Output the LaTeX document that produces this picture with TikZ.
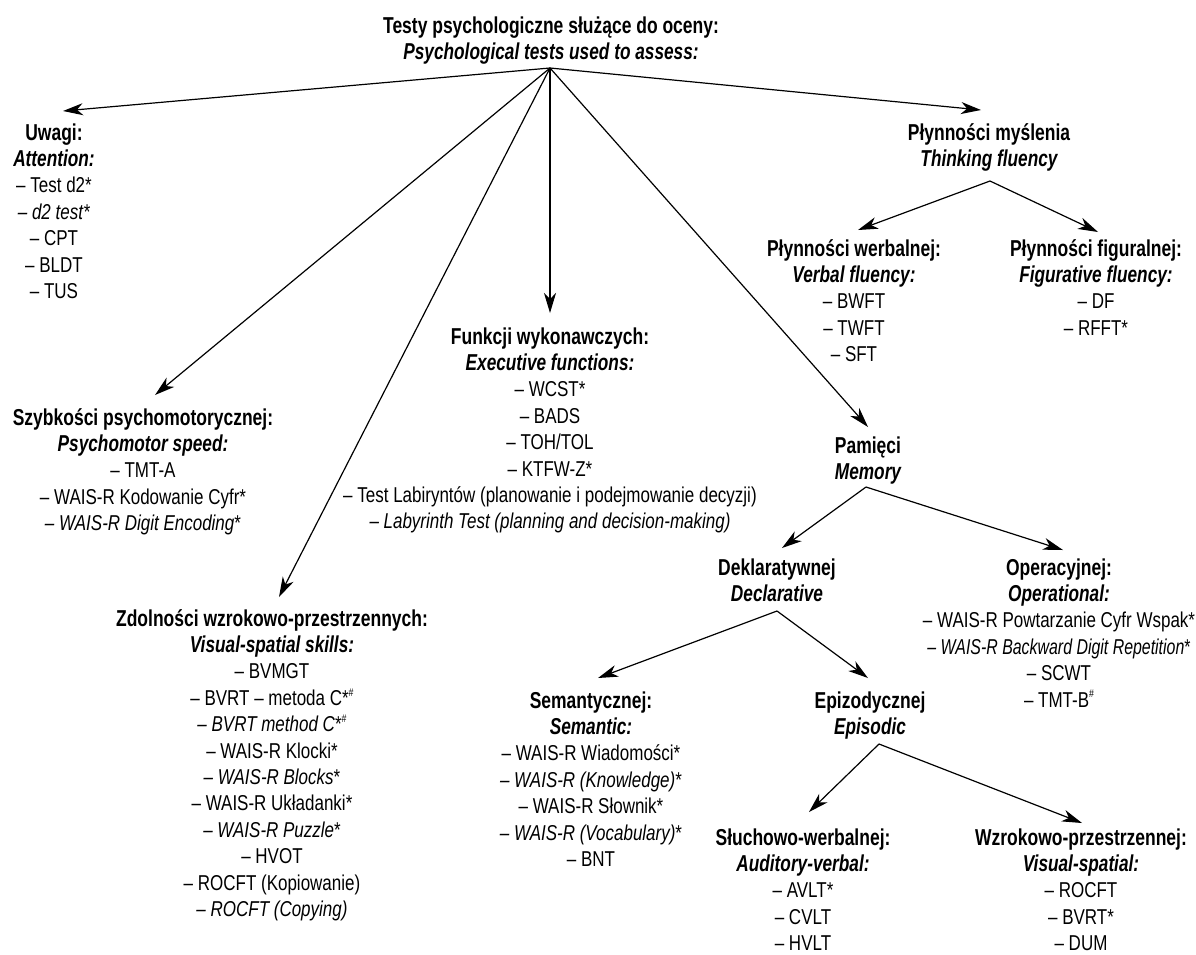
\documentclass[tikz,border=0pt]{standalone}
\usepackage{fontspec}
\setmainfont{Liberation Sans}[FakeStretch=0.79,
  BoldFeatures={FakeStretch=0.76}, BoldItalicFeatures={FakeStretch=0.75}]
\usetikzlibrary{arrows.meta}
\newcommand{\hd}[1]{{\fontsize{23pt}{26.4pt}\selectfont\bfseries #1}}
\newcommand{\hdi}[1]{{\fontsize{23pt}{26.4pt}\selectfont\bfseries\itshape #1}}
\newcommand{\shash}{\raisebox{0.42em}{\fontsize{11pt}{11pt}\selectfont\#}}
\tikzset{
  blk/.style={align=center, inner sep=0pt, anchor=base,
    font=\fontsize{21.5pt}{26.4pt}\selectfont},
  arr/.style={line width=1.2pt, -{Stealth[length=20pt,width=12pt,inset=6pt]}},
}
\begin{document}
\begin{tikzpicture}[x=1pt,y=-1pt]
\useasboundingbox (0,0) rectangle (1196,954);
% ---- text blocks (anchor = baseline of the last line) ----
\node[blk] (root) at (551,59.4) {\hd{Testy psychologiczne służące do oceny:}\\ \hdi{Psychological tests used to assess:}};
\node[blk] (uw) at (54,298.4) {\hd{Uwagi:}\\ \hdi{Attention:}\\ – Test d2*\\ \textit{– d2 test*}\\ – CPT\\ – BLDT\\ – TUS};
\node[blk] (sz) at (143,530.6) {\hd{Szybkości psychomotorycznej:}\\ \hdi{Psychomotor speed:}\\ – TMT-A\\ – WAIS-R Kodowanie Cyfr*\\ \textit{– WAIS-R Digit Encoding}*};
\node[blk] (fw) at (550,528.8) {\hd{Funkcji wykonawczych:}\\ \hdi{Executive functions:}\\ – WCST*\\ – BADS\\ – TOH/TOL\\ – KTFW-Z*\\ – Test Labiryntów (planowanie i podejmowanie decyzji)\\ \textit{– Labyrinth Test (planning and decision-making)}};
\node[blk] (zd) at (272,916.4) {\hd{Zdolności wzrokowo-przestrzennych:}\\ \hdi{Visual-spatial skills:}\\ – BVMGT\\ – BVRT – metoda C*\shash\\ \textit{– BVRT method C}*\shash\\ – WAIS-R Klocki*\\ \textit{– WAIS-R Blocks}*\\ – WAIS-R Układanki*\\ \textit{– WAIS-R Puzzle}*\\ – HVOT\\ – ROCFT (Kopiowanie)\\ \textit{– ROCFT (Copying)}};
\node[blk] (pm) at (989,166.4) {\hd{Płynności myślenia}\\ \hdi{Thinking fluency}};
\node[blk] (pw) at (854,361.6) {\hd{Płynności werbalnej:}\\ \hdi{Verbal fluency:}\\ – BWFT\\ – TWFT\\ – SFT};
\node[blk] (pf) at (1096,335.2) {\hd{Płynności figuralnej:}\\ \hdi{Figurative fluency:}\\ – DF\\ – RFFT*};
\node[blk] (pa) at (868,479.4) {\hd{Pamięci}\\ \hdi{Memory}};
\node[blk] (de) at (777,601.4) {\hd{Deklaratywnej}\\ \hdi{Declarative}};
\node[blk] (op) at (1059,707) {\hd{Operacyjnej:}\\ \hdi{Operational:}\\ – WAIS-R Powtarzanie Cyfr Wspak*\\ {\addfontfeatures{FakeStretch=0.74}\itshape – WAIS-R Backward Digit Repetition\upshape*}\\ – SCWT\\ – TMT-B\shash};
\node[blk] (se) at (591,866.4) {\hd{Semantycznej:}\\ \hdi{Semantic:}\\ – WAIS-R Wiadomości*\\ \textit{– WAIS-R (Knowledge)}*\\ – WAIS-R Słownik*\\ \textit{– WAIS-R (Vocabulary)}*\\ – BNT};
\node[blk] (ep) at (870,734.4) {\hd{Epizodycznej}\\ \hdi{Episodic}};
\node[blk] (sl) at (803,950.6) {\hd{Słuchowo-werbalnej:}\\ \hdi{Auditory-verbal:}\\ – AVLT*\\ – CVLT\\ – HVLT};
\node[blk] (wz) at (1081,950.6) {\hd{Wzrokowo-przestrzennej:}\\ \hdi{Visual-spatial:}\\ – ROCFT\\ – BVRT*\\ – DUM};
% ---- connector end points ----
\coordinate (rootO) at (550,68);
\coordinate (uwT) at (63,111);
\coordinate (szT) at (155,395);
\coordinate (zdT) at (279,597);
\coordinate (fwT) at (550,313);
\coordinate (paT) at (868,427);
\coordinate (pmT) at (981,110);
\coordinate (pmO) at (990,181);
\coordinate (pwT) at (858,230);
\coordinate (pfT) at (1098,232);
\coordinate (paO) at (866,487);
\coordinate (deT) at (782,548);
\coordinate (opT) at (1063,550);
\coordinate (deO) at (777,611);
\coordinate (seT) at (598,678);
\coordinate (epT) at (868,678);
\coordinate (epO) at (879,744);
\coordinate (slT) at (809,812);
\coordinate (wzT) at (1082,823);
% ---- connectors ----
\draw[arr] (rootO) -- (uwT);
\draw[arr] (rootO) -- (szT);
\draw[arr] (rootO) -- (zdT);
\draw[arr] (rootO) -- (fwT);
\draw[arr] (rootO) -- (paT);
\draw[arr] (rootO) -- (pmT);
\draw[arr] (pmO) -- (pwT);
\draw[arr] (pmO) -- (pfT);
\draw[arr] (paO) -- (deT);
\draw[arr] (paO) -- (opT);
\draw[arr] (deO) -- (seT);
\draw[arr] (deO) -- (epT);
\draw[arr] (epO) -- (slT);
\draw[arr] (epO) -- (wzT);
\end{tikzpicture}
\end{document}
